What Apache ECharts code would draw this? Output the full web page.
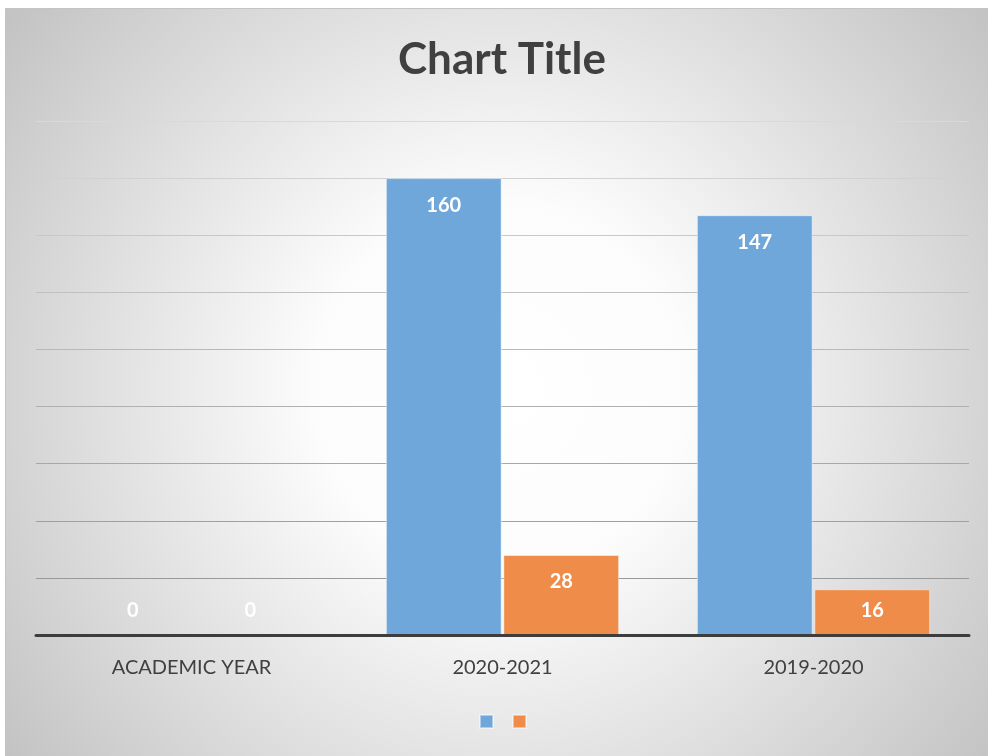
<!DOCTYPE html>
<html>
<head>
<meta charset="utf-8">
<script src="https://cdn.jsdelivr.net/npm/echarts@6/dist/echarts.min.js"></script>
<style>
    html, body { margin: 0; padding: 0; background: #ffffff; }
    #chart { width: 988px; height: 756px; }
</style>
</head>
<body>
<div id="chart"></div>
<script>
(function(){

    // data
    let categories = ['ACADEMIC YEAR', '2020-2021', '2019-2020'];
    let seriesNames = ['Series1', 'Series2'];
    let blueValues = [0, 160, 147];
    let orangeValues = [0, 28, 16];
    let seriesColors = ['#6FA7DB', '#EF8C4A'];

    // gridline shades from bottom (0) to top (180)
    let gridShades = ['#999999', '#999999', '#a0a0a0', '#a8a8a8', '#b0b0b0',
                      '#b8b8b8', '#c0c0c0', '#c8c8c8', '#d1d1d1', '#d9d9d9'];

    let _itemFor = function(v){
        // short bars get the label near the bottom, like the original
        let item = { value: v };
        if (v < 20){
            item.label = { position: 'insideBottom', distance: 14 };
        } else {
            item.label = { position: 'insideTop', distance: 17 };
        }
        if (v === 0){
            item.itemStyle = { borderWidth: 0 };
        }
        return item;
    };

    let _makeSeries = function(name, values, color){
        return {
            name: name,
            type: 'bar',
            barCategoryGap: '25%',
            barGap: '1.5%',
            itemStyle: {
                color: color,
                borderColor: 'rgba(255,255,255,0.45)',
                borderWidth: 1
            },
            label: {
                show: true,
                color: '#ffffff',
                fontFamily: 'Lato',
                fontWeight: 'bold',
                fontSize: 20
            },
            data: values.map(_itemFor)
        };
    };

    let chart = echarts.init(document.getElementById('chart'), null, { renderer: 'canvas' });

    chart.setOption({
        backgroundColor: '#ffffff',
        animation: false,
        graphic: [{
            type: 'rect',
            z: -100,
            silent: true,
            shape: { x: 5.5, y: 8.5, width: 990, height: 760 },
            style: {
                fill: {
                    type: 'radial', x: 0.5, y: 0.5, r: 0.82,
                    colorStops: [
                        { offset: 0, color: '#ffffff' },
                        { offset: 0.3, color: '#fcfcfc' },
                        { offset: 1, color: '#c2c2c2' }
                    ]
                },
                stroke: '#c4c4c4',
                lineWidth: 1
            }
        }],
        title: {
            text: 'Chart Title',
            left: 393,
            top: 33,
            textStyle: {
                fontFamily: 'Lato',
                fontWeight: 'bold',
                fontSize: 44,
                color: '#404040'
            }
        },
        legend: {
            data: seriesNames,
            left: 479,
            top: 714,
            padding: 0,
            itemWidth: 13,
            itemHeight: 13,
            itemGap: 18,
            icon: 'rect',
            formatter: function(){ return ''; }
        },
        grid: {
            left: 36,
            right: 19,
            top: 121,
            bottom: 121,
            containLabel: false
        },
        xAxis: {
            type: 'category',
            data: categories,
            z: 5,
            axisTick: { show: false },
            axisLine: {
                lineStyle: { color: '#3d3d3d', width: 3 }
            },
            axisLabel: {
                margin: 23,
                fontFamily: 'Lato',
                fontSize: 20,
                color: '#404040'
            }
        },
        yAxis: {
            type: 'value',
            min: 0,
            max: 180,
            interval: 20,
            axisLabel: { show: false },
            axisTick: { show: false },
            axisLine: { show: false },
            splitLine: {
                lineStyle: { color: gridShades, width: 1 }
            }
        },
        series: [
            _makeSeries(seriesNames[0], blueValues, seriesColors[0]),
            _makeSeries(seriesNames[1], orangeValues, seriesColors[1])
        ]
    });

})();
</script>
</body>
</html>
